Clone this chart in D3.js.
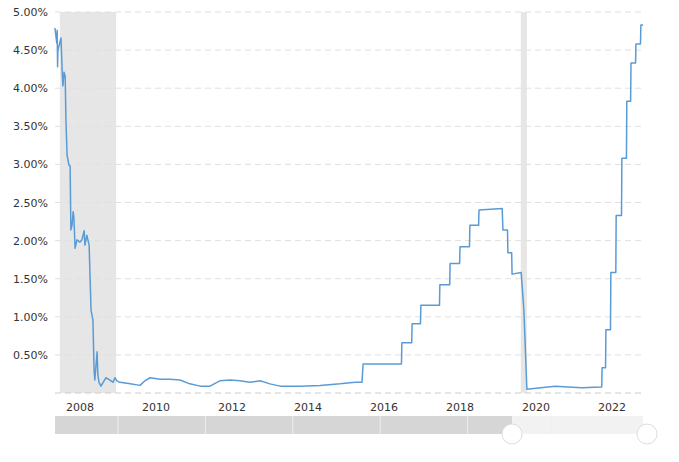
<!DOCTYPE html>
<html><head><meta charset="utf-8">
<script src="https://cdn.jsdelivr.net/npm/d3@7"></script>
<style>body{margin:0;background:#fff}svg{display:block}</style>
</head><body><svg id="c" width="679" height="462"></svg>
<script>
const years = [2007.34,2007.39,2007.40,2007.41,2007.42,2007.50,2007.53,2007.55,2007.58,2007.61,2007.63,2007.66,2007.71,2007.74,2007.76,2007.79,2007.82,2007.84,2007.87,2007.92,2008.00,2008.05,2008.11,2008.13,2008.18,2008.24,2008.26,2008.29,2008.34,2008.37,2008.39,2008.45,2008.47,2008.50,2008.55,2008.61,2008.68,2008.79,2008.87,2008.92,2008.97,2009.05,2009.32,2009.58,2009.71,2009.84,2010.11,2010.37,2010.63,2010.89,2011.16,2011.42,2011.68,2011.95,2012.21,2012.47,2012.74,2013.00,2013.26,2013.79,2014.32,2014.84,2015.24,2015.42,2015.45,2016.46,2016.47,2016.73,2016.74,2016.96,2016.97,2017.46,2017.47,2017.73,2017.74,2017.99,2018.00,2018.25,2018.26,2018.49,2018.50,2019.11,2019.13,2019.25,2019.26,2019.36,2019.37,2019.61,2019.68,2019.76,2020.5,2021.2,2021.73,2021.74,2021.83,2021.84,2021.96,2021.97,2022.10,2022.11,2022.25,2022.26,2022.38,2022.39,2022.49,2022.50,2022.62,2022.63,2022.75,2022.76,2022.82];
const rates = [4.79,4.59,4.76,4.28,4.50,4.66,4.24,4.03,4.21,4.16,3.58,3.12,2.99,2.98,2.14,2.20,2.38,2.30,1.90,2.01,1.98,2.01,2.13,1.94,2.07,1.94,1.61,1.09,0.96,0.30,0.17,0.54,0.24,0.14,0.09,0.14,0.20,0.17,0.14,0.20,0.16,0.14,0.12,0.10,0.16,0.20,0.18,0.18,0.17,0.12,0.09,0.09,0.16,0.17,0.16,0.14,0.16,0.12,0.09,0.09,0.10,0.12,0.14,0.14,0.38,0.38,0.66,0.66,0.91,0.91,1.15,1.15,1.42,1.42,1.70,1.70,1.92,1.92,2.20,2.20,2.40,2.42,2.14,2.14,1.84,1.84,1.56,1.58,1.10,0.05,0.09,0.07,0.08,0.33,0.33,0.83,0.83,1.58,1.58,2.33,2.33,3.08,3.08,3.83,3.83,4.33,4.33,4.58,4.58,4.83,4.83];
const recessions = [[2007.47,2008.95],[2019.60,2019.76]];
const yTicks = [0.5,1,1.5,2,2.5,3,3.5,4,4.5,5];
const xTicks = [2008,2010,2012,2014,2016,2018,2020,2022];

const svg = d3.select("#c");
const x = d3.scaleLinear().domain([2008,2022]).range([80,612]);
const y = d3.scaleLinear().domain([0,5]).range([393,12]);
const L=55,R=643;
svg.selectAll(".rec").data(recessions).enter().append("rect")
  .attr("x",d=>x(d[0])).attr("width",d=>x(d[1])-x(d[0]))
  .attr("y",y(5)).attr("height",y(0)-y(5)).attr("fill","#e6e6e6");
svg.selectAll(".g").data([0].concat(yTicks)).enter().append("line")
  .attr("x1",L).attr("x2",R).attr("y1",d=>y(d)).attr("y2",d=>y(d))
  .attr("stroke",d=>d===0?"#ccc":"#e0e0e0").attr("stroke-dasharray","6,4");
svg.selectAll(".yl").data(yTicks).enter().append("text")
  .attr("x",48).attr("y",d=>y(d)+4).attr("text-anchor","end")
  .attr("font-family","DejaVu Sans").attr("font-size",11).attr("fill","#333")
  .text(d=>d.toFixed(2)+"%");
svg.selectAll(".xl").data(xTicks).enter().append("text")
  .attr("x",d=>x(d)).attr("y",411).attr("text-anchor","middle")
  .attr("font-family","DejaVu Sans").attr("font-size",11).attr("fill","#333")
  .text(d=>d);
const pts = years.map((t,i)=>[t,rates[i]]);
svg.append("path").datum(pts).attr("fill","none").attr("stroke","#5b9bd5")
  .attr("stroke-width",1.5).attr("stroke-linejoin","round")
  .attr("d",d3.line().x(d=>x(d[0])).y(d=>y(d[1])));
// navigator
svg.append("rect").attr("x",L).attr("y",416).attr("width",R-L).attr("height",18).attr("fill","#f2f2f2");
svg.append("rect").attr("x",L).attr("y",416).attr("width",512-L).attr("height",18).attr("fill","#d6d6d6");
[x(2009),x(2011.3),x(2013.6),x(2015.9),x(2018.2),x(2020.4)].forEach(v=>
  svg.append("line").attr("x1",v).attr("x2",v).attr("y1",416).attr("y2",434).attr("stroke","#eee"));
[512,647].forEach(v=>svg.append("circle").attr("cx",v).attr("cy",434).attr("r",10)
  .attr("fill","#fff").attr("stroke","#ddd"));
</script></body></html>
